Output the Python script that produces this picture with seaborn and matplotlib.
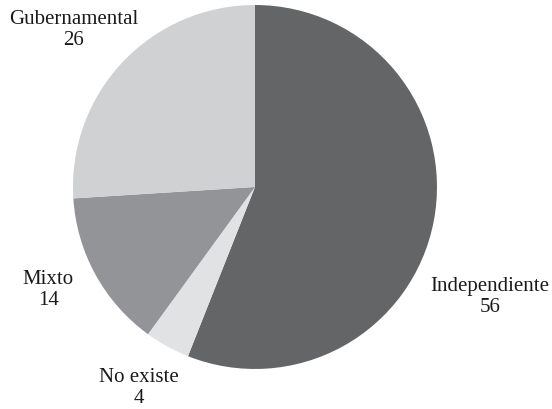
import matplotlib
matplotlib.use("Agg")
import matplotlib.pyplot as plt
import seaborn as sns

# Categories and counts, in drawing order (clockwise from 12 o'clock)
categories = ["Independiente", "No existe", "Mixto", "Gubernamental"]
values = [56, 4, 14, 26]
colors = ["#646567", "#e1e2e4", "#939497", "#d0d1d3"]

# Label anchor points, in units of the pie radius
label_pos = [(1.29, -0.60), (-0.64, -1.10), (-1.135, -0.56), (-0.997, 0.868)]

sns.set_theme(style="white")
plt.rcParams["font.family"] = ["Liberation Serif", "DejaVu Serif"]

fig = plt.figure(figsize=(5.52, 4.10), dpi=100)
ax = fig.add_axes([0, 0, 1, 1])

ax.pie(values, colors=colors, startangle=90, counterclock=False,
       radius=1.0, center=(0, 0), wedgeprops=dict(linewidth=0))

for name, val, (x, y) in zip(categories, values, label_pos):
    ax.text(x, y, f"{name}\n{val}", ha="center", va="center",
            family=["Liberation Serif", "DejaVu Serif"],
            fontsize=15, color="#1a1a1a", linespacing=1.15)

ax.set_xlim(-1.401, 1.632)
ax.set_ylim(-1.220, 1.033)
ax.set_aspect("auto")
ax.axis("off")

fig.savefig("out.png", dpi=100, facecolor="white")
